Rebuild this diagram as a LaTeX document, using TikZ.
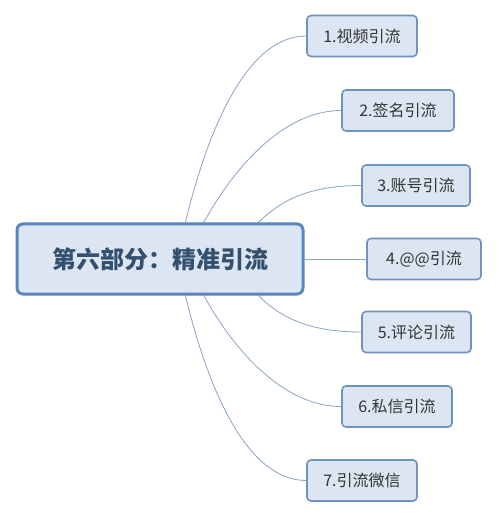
\documentclass[tikz,border=0pt]{standalone}
\usepackage{fontspec}
\newfontfamily\cjk{Noto Sans CJK SC}
\definecolor{mainfill}{HTML}{DCE6F2}
\definecolor{mainborder}{HTML}{5A86BE}
\definecolor{maintext}{HTML}{34506F}
\definecolor{childfill}{HTML}{DCE6F2}
\definecolor{childborder}{HTML}{6F93C0}
\definecolor{childtext}{HTML}{333333}
\definecolor{linkcol}{HTML}{8AA4C4}
\begin{document}
\begin{tikzpicture}[x=1pt,y=-1pt,
  mainbox/.style={draw=mainborder, line width=3pt, fill=mainfill, rounded corners=6pt,
    minimum width=286pt, minimum height=70pt, inner sep=0pt,
    font=\cjk\fontsize{24}{26}\selectfont\bfseries, text=maintext},
  childbox/.style={draw=childborder, line width=1.6pt, fill=childfill, rounded corners=4pt,
    minimum width=110pt, minimum height=41pt, inner sep=0pt,
    font=\cjk\fontsize{16}{18}\selectfont, text=childtext},
  link/.style={draw=linkcol, line width=0.8pt}]
\useasboundingbox (0,0) rectangle (498,518);
\fill[white] (0,0) rectangle (498,518);

\coordinate (t1) at (185,224);
\coordinate (t2) at (203,224);
\coordinate (t3) at (257,224);
\coordinate (b5) at (257,294);
\coordinate (b6) at (203,294);
\coordinate (b7) at (185,294);

\node[childbox, minimum width=110pt] (c1) at (362,36) {1.视频引流};
\node[childbox, minimum width=112pt] (c2) at (398,110.5) {2.签名引流};
\node[childbox, minimum width=108pt] (c3) at (416,185.5) {3.账号引流};
\node[childbox, minimum width=114pt] (c4) at (424,259) {4.@@引流};
\node[childbox, minimum width=109pt] (c5) at (416.5,332) {5.评论引流};
\node[childbox, minimum width=110pt] (c6) at (397,406.5) {6.私信引流};
\node[childbox, minimum width=110pt] (c7) at (362,480.5) {7.引流微信};

\path[link] (t1) .. controls (210,120) and (250,36) .. (c1.west);
\path[link] (t2) .. controls (235,165) and (285,110.5) .. (c2.west);
\path[link] (t3) .. controls (280,200) and (310,185.5) .. (c3.west);
\path[link] (b5) .. controls (280,318) and (310,332) .. (c5.west);
\path[link] (b6) .. controls (235,353) and (285,406.5) .. (c6.west);
\path[link] (b7) .. controls (210,398) and (250,480.5) .. (c7.west);

\node[mainbox] (m) at (160,259) {第六部分：精准引流};
\path[link] (m.east) -- (c4.west);
\end{tikzpicture}
\end{document}
